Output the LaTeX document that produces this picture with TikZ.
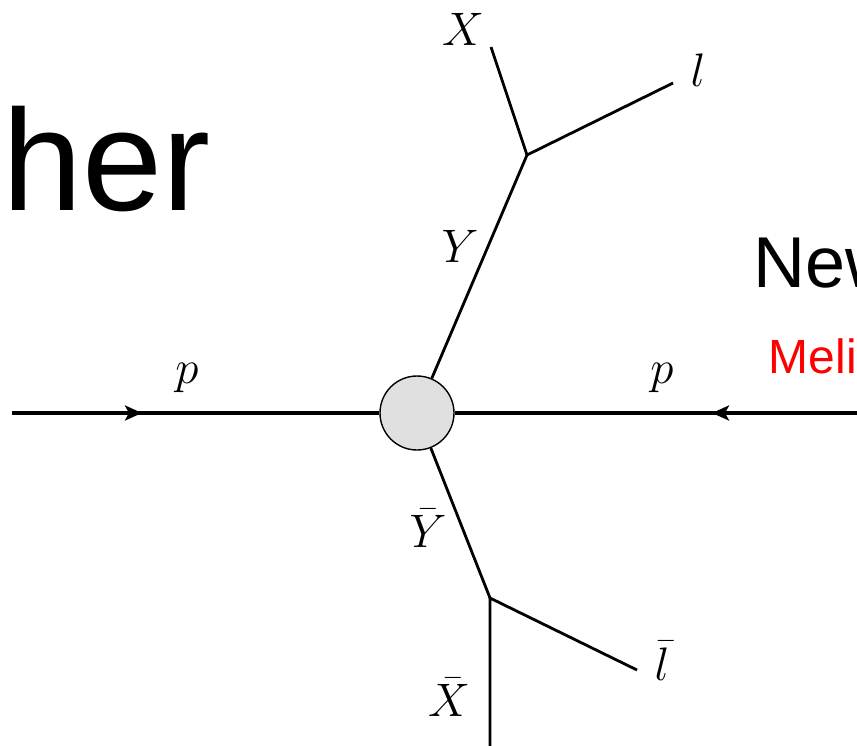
\RequirePackage{fix-cm}
\documentclass[tikz,border=0pt]{standalone}
\usepackage{fontspec}
\setmainfont{Liberation Sans}
\usetikzlibrary{arrows.meta,decorations.markings}
\definecolor{blobgray}{RGB}{224,224,224}
\definecolor{pured}{RGB}{255,0,0}
\tikzset{
  leg/.style={line width=2.8pt},
  beam/.style={line width=3.3pt},
  lbl/.style={inner sep=0pt, font=\fontsize{47}{47}\selectfont},
  arrowat/.style={postaction={decorate},decoration={markings,
     mark=at position #1 with {\arrow{Stealth[length=17pt,width=15pt,inset=4pt]}}}},
  blob/.style={circle, draw, line width=1.4pt, fill=blobgray, minimum size=74pt, inner sep=0pt},
}
\begin{document}
\begin{tikzpicture}[x=1pt,y=-1pt]
\useasboundingbox (0,0) rectangle (857,745);
\clip (0,0) rectangle (857,745);
% big text
\node[anchor=base west, inner sep=0pt, font=\fontsize{144}{144}\selectfont] (her) at (2.5,210) {her};
\node[anchor=base west, inner sep=0pt, font=\fontsize{72}{72}\selectfont] (new) at (753.5,287) {New};
\node[anchor=base west, inner sep=0pt, text=pured, font=\fontsize{48}{48}\selectfont] (meli) at (768.5,373) {Meli};
% vertices
\node[blob] (V) at (417,413) {};
\coordinate (pl) at (12,413);
\coordinate (pr) at (870,413);
\coordinate (v1) at (527,155);
\coordinate (xe) at (491,47);
\coordinate (le) at (673,83);
\coordinate (v2) at (490,598);
\coordinate (xbe) at (490,760);
\coordinate (lbe) at (637,670);
% beams
\draw[beam, arrowat=130pt] (pl) -- (V);
\draw[beam, arrowat=158pt] (pr) -- (V);
% legs
\draw[leg] (V) -- (v1);
\draw[leg, line join=miter] (xe) -- (v1) -- (le);
\draw[leg] (V) -- (v2);
\draw[leg, line join=miter] (xbe) -- (v2) -- (lbe);
% labels
\node[lbl] (lX) at (463,29) {$X$};
\node[lbl] (ll) at (698,70) {$l$};
\node[lbl] (lY) at (460,246) {$Y$};
\node[lbl] (lp1) at (187,378) {$p$};
\node[lbl] (lp2) at (662,378) {$p$};
\node[lbl] (lYb) at (428,528) {$\bar{Y}$};
\node[lbl] (llb) at (662,661) {$\bar{l}$};
\node[lbl] (lXb) at (449,697) {$\bar{X}$};
\end{tikzpicture}
\end{document}
